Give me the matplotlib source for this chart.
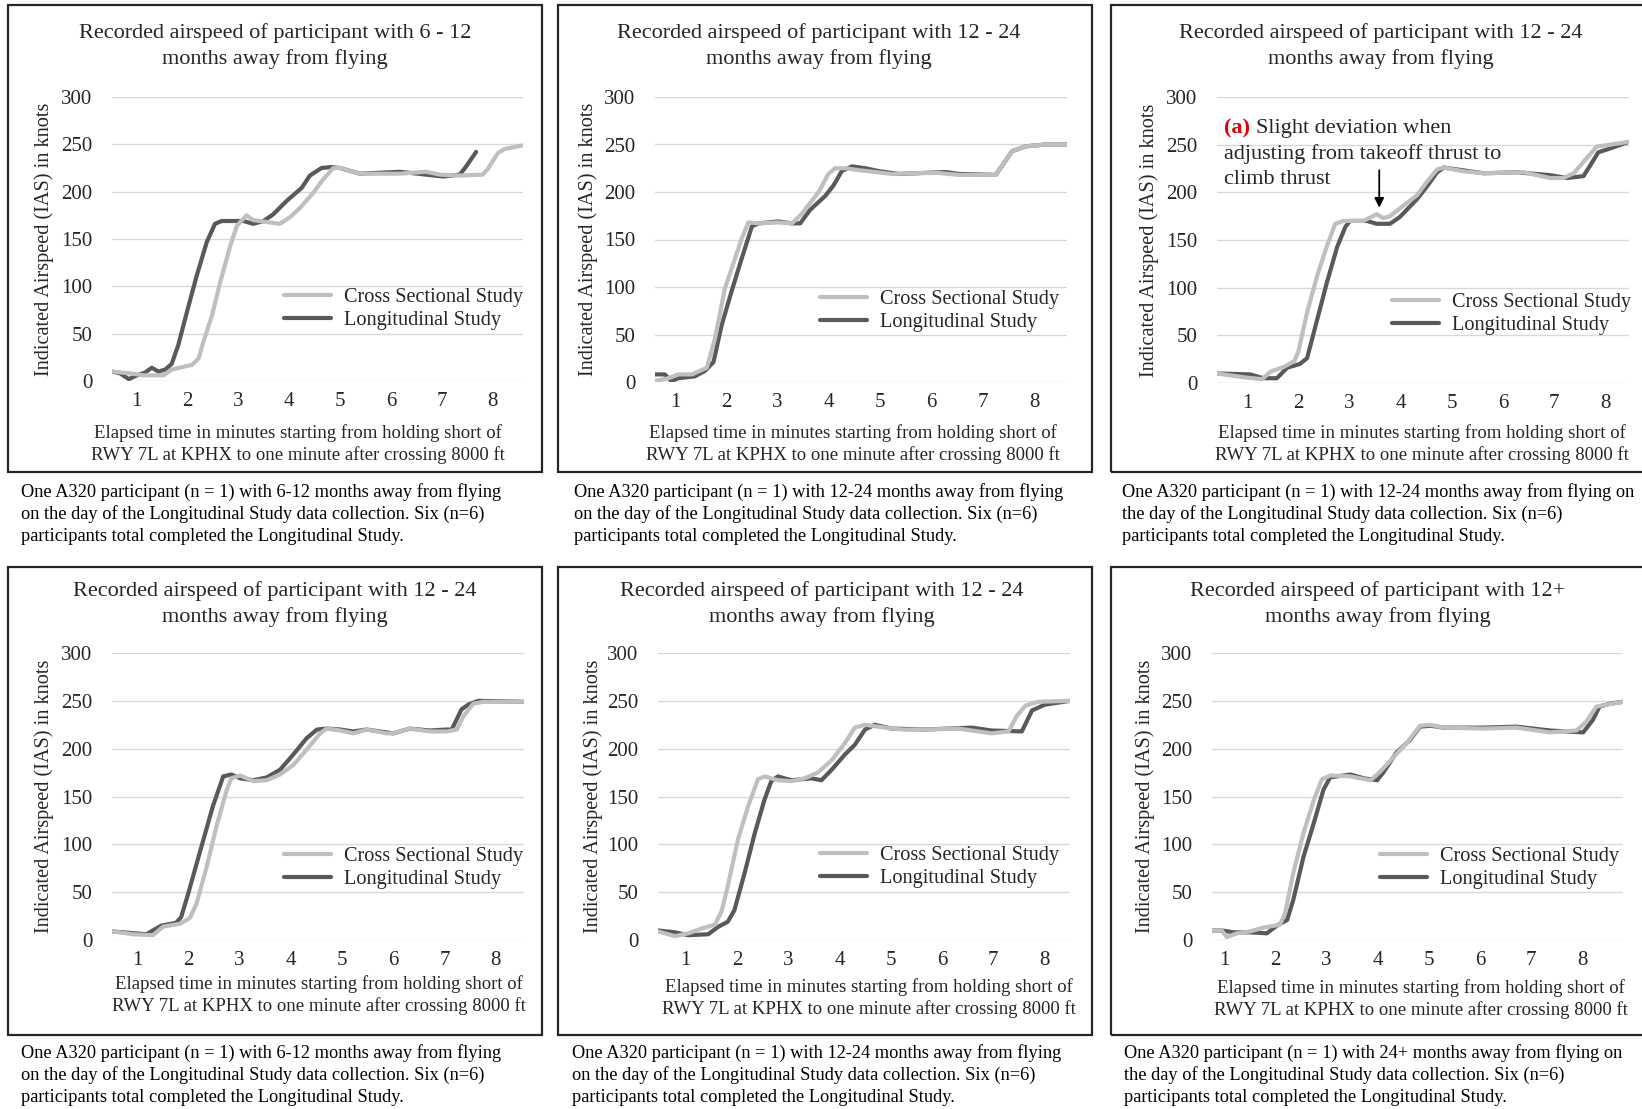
import matplotlib
matplotlib.use('Agg')
import matplotlib.pyplot as plt
from matplotlib.patches import Rectangle

plt.rcParams['font.family'] = ['Liberation Serif', 'DejaVu Serif']

W, H = 1642, 1109

# ===== Panel texts =====
titles = [
    ("Recorded airspeed of participant with 6 - 12", "months away from flying"),
    ("Recorded airspeed of participant with 12 - 24", "months away from flying"),
    ("Recorded airspeed of participant with 12 - 24", "months away from flying"),
    ("Recorded airspeed of participant with 12 - 24", "months away from flying"),
    ("Recorded airspeed of participant with 12 - 24", "months away from flying"),
    ("Recorded airspeed of participant with 12+", "months away from flying"),
]
captions = [
    ("One A320 participant (n = 1) with 6-12 months away from flying",
     "on the day of the Longitudinal Study data collection. Six (n=6)",
     "participants total completed the Longitudinal Study."),
    ("One A320 participant (n = 1) with 12-24 months away from flying",
     "on the day of the Longitudinal Study data collection. Six (n=6)",
     "participants total completed the Longitudinal Study."),
    ("One A320 participant (n = 1) with 12-24 months away from flying on",
     "the day of the Longitudinal Study data collection. Six (n=6)",
     "participants total completed the Longitudinal Study."),
    ("One A320 participant (n = 1) with 6-12 months away from flying",
     "on the day of the Longitudinal Study data collection. Six (n=6)",
     "participants total completed the Longitudinal Study."),
    ("One A320 participant (n = 1) with 12-24 months away from flying",
     "on the day of the Longitudinal Study data collection. Six (n=6)",
     "participants total completed the Longitudinal Study."),
    ("One A320 participant (n = 1) with 24+ months away from flying on",
     "the day of the Longitudinal Study data collection. Six (n=6)",
     "participants total completed the Longitudinal Study."),
]
xlabel_lines = ("Elapsed time in minutes starting from holding short of",
                "RWY 7L at KPHX to one minute after crossing 8000 ft")
ylabel = "Indicated Airspeed (IAS) in knots"
series_names = ["Cross Sectional Study", "Longitudinal Study"]
x_ticks = [1, 2, 3, 4, 5, 6, 7, 8]
y_ticks = [0, 50, 100, 150, 200, 250, 300]

# ===== Data (minutes, knots) =====
p1_t_cross = [0.53, 0.89, 1.15, 1.54, 1.70, 1.93, 2.10, 2.23, 2.32, 2.49, 2.65, 2.85, 2.98, 3.17, 3.30, 3.56,
              3.82, 4.02, 4.22, 4.48, 4.67, 4.87, 5.00, 5.39, 6.17, 6.69, 6.96, 7.35, 7.80, 7.90, 8.10, 8.23, 8.59]
p1_cross = [10, 8, 6, 6, 12, 15, 17, 24, 41, 69, 104, 143, 164, 175, 170, 168,
            166, 173, 183, 199, 213, 225, 225, 219, 219, 221, 218, 217, 218, 224, 241, 245, 249]
p1_t_long = [0.53, 0.69, 0.86, 1.02, 1.18, 1.31, 1.44, 1.57, 1.70, 1.83, 2.00, 2.19, 2.39, 2.55, 2.68, 3.11, 3.30,
             3.50, 3.69, 3.95, 4.25, 4.41, 4.64, 4.83, 5.00, 5.39, 6.17, 6.69, 7.02, 7.35, 7.48, 7.67]
p1_long = [10, 8, 2, 6, 9, 14, 10, 12, 18, 38, 73, 111, 147, 166, 169, 169, 166,
           169, 176, 190, 204, 217, 225, 226, 225, 219, 221, 218, 216, 218, 227, 242]

p2_t_cross = [0.61, 0.87, 1.07, 1.33, 1.62, 1.78, 1.97, 2.17, 2.30, 2.43, 2.63, 3.01, 3.28, 3.47, 3.80, 3.99,
              4.12, 4.32, 4.58, 5.23, 5.82, 6.14, 6.53, 7.25, 7.38, 7.57, 7.83, 8.22, 8.64]
p2_cross = [1, 4, 8, 8, 15, 46, 98, 130, 151, 168, 167, 168, 167, 177, 200, 219,
            225, 225, 223, 219, 220, 220, 218, 218, 228, 243, 248, 250, 250]
p2_t_long = [0.61, 0.80, 0.93, 1.07, 1.39, 1.59, 1.75, 1.91, 2.10, 2.30, 2.50, 2.63, 3.01, 3.28, 3.44, 3.63,
             3.93, 4.09, 4.25, 4.45, 4.71, 4.97, 5.36, 5.82, 6.28, 6.53, 7.25, 7.38, 7.57, 7.83, 8.22, 8.64]
p2_long = [8, 8, 1, 4, 6, 12, 21, 60, 95, 130, 164, 167, 169, 167, 167, 181,
           196, 207, 222, 227, 225, 222, 219, 220, 221, 219, 218, 228, 243, 248, 250, 250]

p3_t_cross = [0.41, 0.93, 1.29, 1.46, 1.72, 1.92, 2.00, 2.17, 2.37, 2.56, 2.72, 2.88, 3.27, 3.53, 3.66, 3.79,
              4.05, 4.32, 4.51, 4.71, 4.84, 5.23, 5.62, 6.40, 6.92, 7.18, 7.38, 7.57, 7.83, 8.09, 8.46]
p3_cross = [10, 6, 4, 12, 17, 23, 33, 74, 113, 144, 167, 170, 170, 177, 173, 175,
            186, 197, 211, 224, 226, 222, 220, 221, 215, 215, 220, 232, 248, 250, 253]
p3_t_long = [0.41, 1.06, 1.32, 1.58, 1.78, 2.03, 2.17, 2.37, 2.56, 2.76, 2.92, 3.01, 3.34, 3.53, 3.79, 3.98,
             4.32, 4.51, 4.71, 4.84, 5.62, 6.28, 6.92, 7.25, 7.57, 7.70, 7.86, 8.09, 8.46]
p3_long = [10, 9, 5, 5, 16, 20, 26, 67, 106, 143, 164, 170, 170, 167, 167, 174,
           193, 206, 221, 226, 220, 221, 218, 215, 217, 228, 242, 246, 253]

p4_t_cross = [0.51, 0.92, 1.31, 1.51, 1.84, 2.03, 2.16, 2.36, 2.55, 2.75, 2.84, 3.01, 3.27, 3.53, 3.79, 4.05,
              4.31, 4.57, 4.70, 4.96, 5.22, 5.48, 5.87, 6.00, 6.32, 6.71, 7.04, 7.24, 7.37, 7.56, 7.76, 8.55]
p4_cross = [9, 6, 5, 14, 17, 23, 38, 77, 119, 157, 169, 172, 166, 167, 173, 183,
            199, 216, 221, 219, 216, 220, 216, 216, 221, 218, 218, 220, 234, 247, 249, 249]
p4_t_long = [0.51, 1.18, 1.47, 1.76, 1.86, 2.00, 2.22, 2.48, 2.68, 2.84, 3.01, 3.27, 3.53, 3.79, 4.05, 4.31,
             4.51, 4.70, 4.96, 5.22, 5.48, 6.00, 6.32, 6.71, 7.04, 7.14, 7.33, 7.46, 7.66, 8.55]
p4_long = [9, 6, 15, 18, 24, 49, 91, 140, 171, 173, 169, 167, 170, 178, 194, 211,
           220, 221, 220, 218, 220, 216, 221, 219, 220, 220, 241, 246, 250, 249]

p5_t_cross = [0.46, 0.79, 1.05, 1.31, 1.57, 1.70, 1.82, 2.02, 2.22, 2.41, 2.54, 2.80, 3.06, 3.32, 3.58, 3.85,
              4.11, 4.30, 4.50, 4.89, 5.22, 5.67, 6.32, 6.58, 6.97, 7.30, 7.46, 7.63, 7.88, 8.50]
p5_cross = [9, 4, 7, 12, 16, 30, 56, 105, 140, 168, 171, 167, 166, 169, 175, 188,
            206, 222, 225, 222, 220, 220, 221, 219, 216, 218, 234, 245, 249, 250]
p5_t_long = [0.46, 0.79, 1.05, 1.44, 1.64, 1.82, 1.95, 2.15, 2.35, 2.54, 2.67, 2.80, 3.06, 3.45, 3.65, 3.85,
             4.11, 4.30, 4.50, 4.69, 5.02, 5.67, 6.58, 6.97, 7.56, 7.76, 8.01, 8.50]
p5_long = [10, 8, 5, 6, 14, 19, 31, 70, 112, 147, 166, 171, 167, 169, 167, 178,
           194, 204, 220, 225, 221, 220, 222, 219, 218, 240, 246, 250]

p6_t_cross = [0.76, 0.95, 1.05, 1.25, 1.51, 1.77, 2.09, 2.19, 2.35, 2.55, 2.75, 2.91, 3.08, 3.47, 3.86, 4.05,
              4.31, 4.57, 4.83, 5.03, 5.29, 6.07, 6.72, 7.37, 7.89, 8.08, 8.28, 8.48, 8.80]
p6_cross = [10, 10, 3, 7, 9, 13, 16, 28, 70, 112, 146, 168, 172, 171, 167, 176,
            191, 206, 224, 225, 222, 221, 222, 217, 219, 228, 244, 246, 249]
p6_t_long = [0.76, 0.95, 1.18, 1.51, 1.83, 2.03, 2.23, 2.35, 2.55, 2.75, 2.94, 3.07, 3.47, 3.73, 3.99, 4.11,
             4.37, 4.63, 4.83, 5.03, 5.29, 6.07, 6.72, 7.37, 8.02, 8.21, 8.34, 8.54, 8.80]
p6_long = [10, 10, 8, 8, 7, 15, 21, 42, 87, 122, 157, 170, 173, 169, 167, 175,
           196, 209, 223, 224, 222, 222, 223, 219, 217, 230, 244, 247, 249]

series = [
    (p1_t_cross, p1_cross, p1_t_long, p1_long),
    (p2_t_cross, p2_cross, p2_t_long, p2_long),
    (p3_t_cross, p3_cross, p3_t_long, p3_long),
    (p4_t_cross, p4_cross, p4_t_long, p4_long),
    (p5_t_cross, p5_cross, p5_t_long, p5_long),
    (p6_t_cross, p6_cross, p6_t_long, p6_long),
]
x_limits = [(0.53, 8.59), (0.61, 8.64), (0.41, 8.46), (0.51, 8.55), (0.46, 8.50), (0.76, 8.80)]

# ===== Layout (pixels in the 1642x1109 picture) =====
plot_boxes = [(112, 97, 523, 381), (655, 97, 1067, 382), (1217, 97, 1629, 383),
              (112, 653, 524, 940), (658, 653, 1070, 940), (1212, 653, 1623, 940)]
frame_boxes = [(8, 5, 542, 472), (558, 5, 1092, 472), (1111, 5, 1660, 472),
               (8, 567, 542, 1035), (558, 567, 1092, 1035), (1111, 567, 1660, 1035)]
title_pos = [(275, 33), (819, 33), (1381, 33), (275, 591), (822, 591), (1378, 591)]
ylabel_x = [44, 588, 1149, 44, 593, 1145]
xlabel_pos = [(298, 433), (853, 433), (1422, 433), (319, 984), (869, 987), (1421, 988)]
legend_pos = [(284, 309), (820, 311), (1392, 314), (284, 868), (820, 867), (1380, 868)]
caption_pos = [(21, 492), (574, 492), (1122, 492), (21, 1053), (572, 1053), (1124, 1053)]

light = '#bfbfbf'
dark = '#595959'
text_col = '#262626'

fig = plt.figure(figsize=(W / 100, H / 100), dpi=100)


def fx(px):
  return px / W


def fy(py):
  return 1 - py / H


def put_lines(x, y0, step, lines, **kw):
  for i, line in enumerate(lines):
    fig.text(fx(x), fy(y0 + i * step), line, va='center', **kw)


for i in range(6):
  l, t, r, b = plot_boxes[i]
  ax = fig.add_axes([fx(l), fy(b), (r - l) / W, (b - t) / H])

  # ===== Chart frame =====
  fl, ft, fr, fb = frame_boxes[i]
  fig.patches.append(Rectangle((fx(fl), fy(fb)), (fr - fl) / W, (fb - ft) / H,
                               transform=fig.transFigure, fill=False,
                               edgecolor='#262626', linewidth=1.6))

  tc, yc, tl, yl = series[i]
  ax.plot(tc, yc, color=light, linewidth=3.0, solid_joinstyle='round',
          solid_capstyle='round', label=series_names[0], zorder=3)
  ax.plot(tl, yl, color=dark, linewidth=3.0, solid_joinstyle='round',
          solid_capstyle='round', label=series_names[1], zorder=2)

  ax.set_xlim(*x_limits[i])
  ax.set_ylim(0, 300)
  ax.set_xticks(x_ticks)
  ax.set_yticks(y_ticks)
  ax.grid(axis='y', color='#d9d9d9', linewidth=1.0)
  ax.set_axisbelow(True)
  for s in ax.spines.values():
    s.set_visible(False)
  ax.tick_params(length=0, labelsize=15, labelcolor=text_col)
  ax.tick_params(axis='y', pad=14)
  ax.tick_params(axis='x', pad=8)
  ax.patch.set_alpha(0)

  put_lines(title_pos[i][0], title_pos[i][1], 26, titles[i], ha='center',
            fontsize=16, color=text_col)
  fig.text(fx(ylabel_x[i]), fy((t + b) / 2), ylabel, rotation=90, ha='center',
           va='center', fontsize=14.6, color=text_col)
  put_lines(xlabel_pos[i][0], xlabel_pos[i][1], 22, xlabel_lines, ha='center',
            fontsize=13.5, color=text_col)
  put_lines(caption_pos[i][0], caption_pos[i][1], 22, captions[i], ha='left',
            fontsize=13.2, color='black')

  lx, ly = legend_pos[i]
  ax.legend(loc='center left', bbox_to_anchor=(fx(lx), fy(ly)),
            bbox_transform=fig.transFigure, frameon=False, borderpad=0,
            borderaxespad=0, handlelength=2.3, handletextpad=0.65,
            labelspacing=0.2, prop={'size': 14.6}, labelcolor=text_col)

  # ===== Annotation on the third panel =====
  if i == 2:
    t1 = fig.text(fx(1224), fy(128), "(a)", fontsize=16, color='#e00000',
                  fontweight='bold', va='center')
    fig.canvas.draw()
    bb = t1.get_window_extent()
    fig.text((bb.x1 + 6) / W, fy(128), "Slight deviation when", fontsize=16,
             color=text_col, va='center')
    put_lines(1224, 154, 26, ("adjusting from takeoff thrust to", "climb thrust"),
              ha='left', fontsize=16, color=text_col)
    ax.annotate("", xy=(3.58, 181), xytext=(3.58, 226),
                arrowprops=dict(arrowstyle='-|>', color='black', lw=1.3,
                                mutation_scale=14))

fig.savefig('out.png', dpi=100)
